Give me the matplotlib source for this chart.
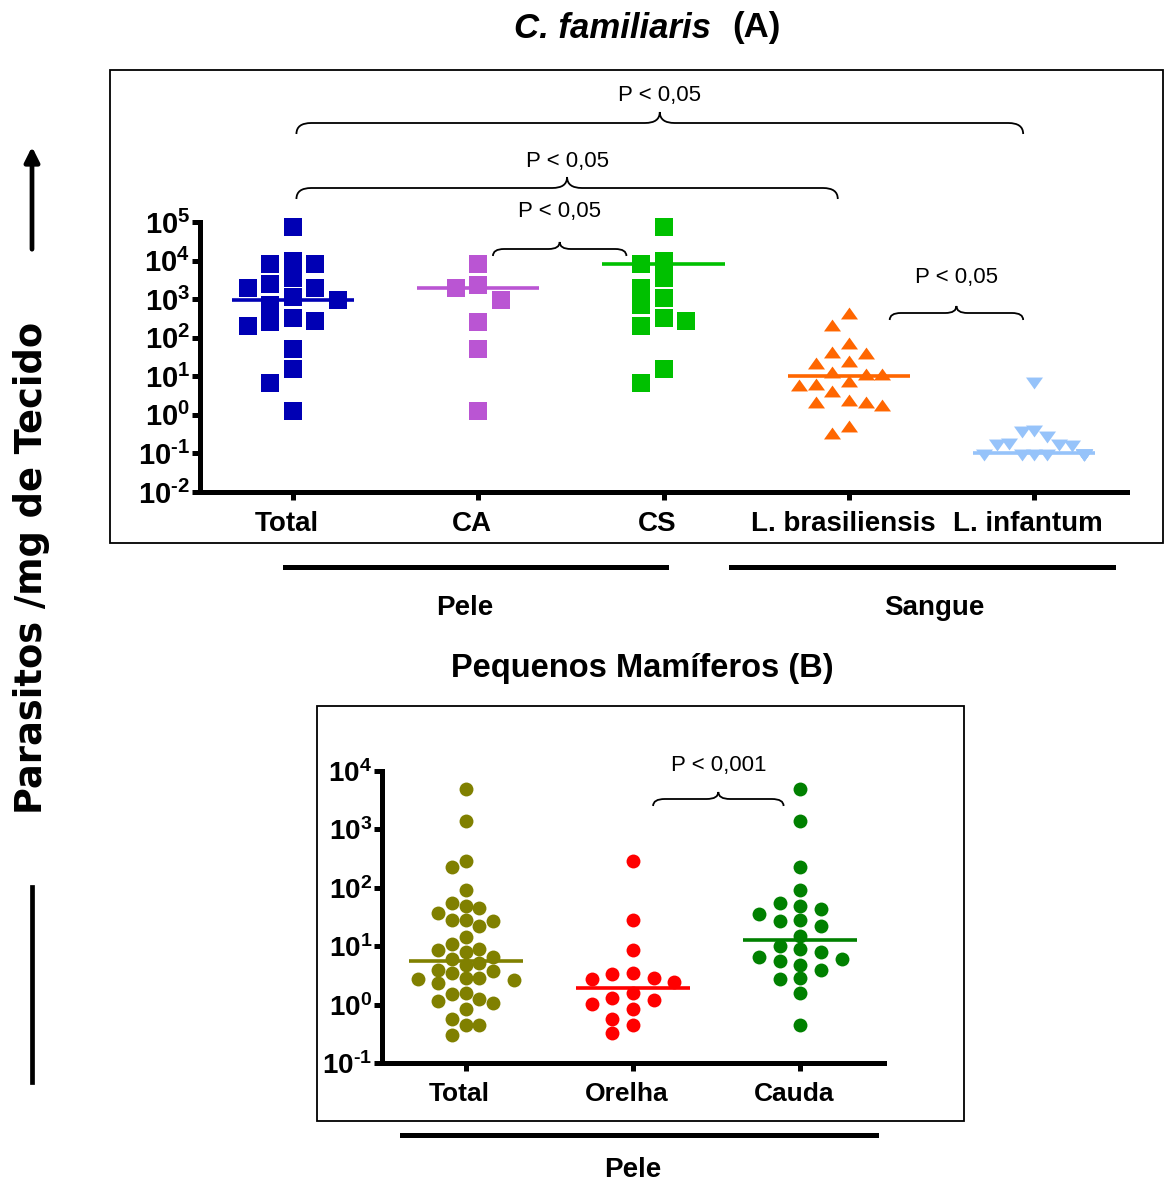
import numpy as np
import matplotlib
matplotlib.use('Agg')
import matplotlib.pyplot as plt
import matplotlib.transforms as mtransforms
from matplotlib.path import Path
from matplotlib.patches import PathPatch, Rectangle, FancyArrowPatch
from matplotlib.lines import Line2D
from matplotlib.ticker import FixedLocator, NullLocator, FuncFormatter

plt.rcParams['font.family'] = ['Liberation Sans', 'DejaVu Sans']
plt.rcParams['mathtext.fontset'] = 'custom'
plt.rcParams['mathtext.rm'] = 'Liberation Sans'
plt.rcParams['mathtext.bf'] = 'Liberation Sans:bold'

W, H = 1164, 1184

# ---- panel A : C. familiaris ----
cats_a = ['Total', 'CA', 'CS', 'L. brasiliensis', 'L. infantum']
total_a = [74000, 9500, 8300, 8300, 3600, 2000, 1150, 1900, 2400, 930, 690,
           330, 250, 200, 275, 51, 15, 6.6, 1.23]
ca_a = [8300, 2000, 2300, 930, 250, 51, 1.23]
cs_a = [74000, 8300, 9500, 3600, 2000, 1100, 690, 275, 200, 330, 15, 6.6]
lbras_a = [430, 220, 74, 42, 39, 25, 22, 13, 11.7, 11.2, 7.6, 5.9, 6.5, 4.1,
           2.5, 2.1, 1.8, 2.1, 0.52, 0.34]
linf_a = [6.9, 0.39, 0.35, 0.27, 0.18, 0.17, 0.16, 0.17,
          0.09, 0.09, 0.09, 0.09, 0.09, 0.09, 0.09, 0.09, 0.09]
medians_a = [940, 2000, 8300, 10, 0.1]
colors_a = ['#0000B4', '#BA55D3', '#00C000', '#FF6600', '#96C3FA']

# ---- panel B : Pequenos Mamiferos ----
cats_b = ['Total', 'Orelha', 'Cauda']
total_b = [4900, 1380, 290, 230, 91, 45, 49, 56, 37, 28, 27.5, 22, 28, 14.5,
           10.7, 8.9, 8.7, 8.1, 6.6, 6.0, 5.1, 4.8, 3.7, 3.5, 3.9, 2.8, 2.75,
           2.8, 2.3, 2.6, 1.6, 1.23, 1.5, 1.07, 1.17, 0.83, 0.44, 0.44, 0.56,
           0.30]
orelha_b = [290, 28, 8.7, 3.5, 2.8, 3.3, 2.4, 2.75, 1.6, 1.3, 1.02, 1.2, 0.83,
            0.56, 0.44, 0.32]
cauda_b = [4900, 1380, 230, 91, 43, 56, 48, 36, 28, 27.5, 22, 15, 10, 8.9, 8.1,
           6.6, 6.0, 5.6, 4.8, 3.9, 2.75, 2.8, 1.6, 0.44]
medians_b = [5.6, 1.95, 13]
colors_b = ['#808000', '#FF0000', '#008000']


def swarm(vals, lo, hi, ax_h, step, dy_min, max_off):
    # simple beeswarm in pixel units, half-step slots
    y = (np.log10(vals) - lo) / (hi - lo) * ax_h
    xs = np.zeros(len(vals))
    done = []
    for i in np.argsort(-y):
        x = 0
        for k in [0, -1, 1, -2, 2, -3, 3, -4, 4, -5, 5, -6, 6, -7, 7, -8, 8]:
            x = k * step / 2
            if all(abs(x - xs[j]) >= step or abs(y[i] - y[j]) >= dy_min for j in done):
                break
        xs[i] = x
        done.append(i)
    if np.abs(xs).max() > max_off:
        xs = xs * max_off / np.abs(xs).max()
    return xs


def pix_ax(px):
    l, t, r, b = px
    return [l / W, 1 - b / H, (r - l) / W, (b - t) / H]


def exp_label(v, p):
    e = str(int(round(np.log10(v)))).replace('-', '\u2010')
    return r'$\mathbf{10^{%s}}$' % e


fig = plt.figure(figsize=(W / 100, H / 100), dpi=100)
pix = mtransforms.Affine2D().scale(1 / W, -1 / H).translate(0, 1) + fig.transFigure
shift_left = mtransforms.ScaledTranslation(-6 / 100, 0, fig.dpi_scale_trans)


def style_axis(ax, ncat, lo, hi, fs, xfs):
    ax.set_yscale('log')
    ax.set_ylim(10.0 ** lo, 10.0 ** hi)
    ax.set_xlim(-0.5, ncat - 0.5)
    for s in ['top', 'right']:
        ax.spines[s].set_visible(False)
    for s in ['left', 'bottom']:
        ax.spines[s].set_linewidth(3.6)
    ax.yaxis.set_major_locator(FixedLocator([10.0 ** k for k in range(lo, hi + 1)]))
    ax.yaxis.set_minor_locator(NullLocator())
    ax.yaxis.set_major_formatter(FuncFormatter(exp_label))
    ax.tick_params(axis='y', length=6, width=3.6, pad=1, labelsize=fs)
    ax.tick_params(axis='x', length=6, width=3.6, pad=8, labelsize=xfs)
    for lab in ax.get_xticklabels():
        lab.set_fontweight('bold')
        lab.set_transform(lab.get_transform() + shift_left)


def brace(ax, x0, x1, y, h, w, label, fs=16, label_y=None):
    tr = mtransforms.blended_transform_factory(ax.transData, pix)
    xm = (x0 + x1) / 2
    verts = [(x0, y + h), (x0, y), (x0 + w, y), (xm - w, y), (xm, y), (xm, y - h),
             (xm, y), (xm + w, y), (x1 - w, y), (x1, y), (x1, y + h)]
    codes = [Path.MOVETO, Path.CURVE3, Path.CURVE3, Path.LINETO, Path.CURVE3, Path.CURVE3,
             Path.CURVE3, Path.CURVE3, Path.LINETO, Path.CURVE3, Path.CURVE3]
    ax.add_patch(PathPatch(Path(verts, codes), transform=tr, fill=False, lw=1.3,
                           ec='black', clip_on=False))
    ax.text(xm, label_y, label, transform=tr, ha='center', va='center', fontsize=fs)


# ---------------- panel A ----------------
axA = fig.add_axes(pix_ax((200, 222, 1127, 492)))
groups_a = [total_a, ca_a, cs_a, lbras_a, linf_a]
tri_up = [(-1, -0.7), (1, -0.7), (0, 0.7)]
tri_dn = [(-1, 0.7), (1, 0.7), (0, -0.7)]
markers_a = ['s', 's', 's', tri_up, tri_dn]
cat_px_a = 185.25
for i, vals in enumerate(groups_a):
    vals = np.array(vals, dtype=float)
    xs = swarm(vals, -2, 5, 270, 22.5, 16, 50)
    axA.scatter(i + xs / cat_px_a, vals, marker=markers_a[i], s=150,
                color=colors_a[i], linewidths=0, zorder=3, clip_on=False)
    axA.plot([i - 0.33, i + 0.33], [medians_a[i]] * 2, color=colors_a[i], lw=2.6,
             zorder=4, solid_capstyle='butt')
axA.set_xticks(range(len(cats_a)))
axA.set_xticklabels(cats_a)
style_axis(axA, len(cats_a), -2, 5, 21, 20)

brace(axA, 0.02, 3.94, 123, 11, 0.08, 'P < 0,05', label_y=95)
brace(axA, 0.02, 2.94, 188, 11, 0.08, 'P < 0,05', label_y=161)
brace(axA, 1.08, 1.80, 249, 7, 0.06, 'P < 0,05', label_y=212)
brace(axA, 3.22, 3.94, 313, 7, 0.06, 'P < 0,05', label_y=277)

# ---------------- panel B ----------------
axB = fig.add_axes(pix_ax((382, 771, 884, 1063)))
groups_b = [total_b, orelha_b, cauda_b]
cat_px_b = 167.5
for i, vals in enumerate(groups_b):
    vals = np.array(vals, dtype=float)
    xs = swarm(vals, -1, 4, 292, 20.7, 13, 48)
    axB.scatter(i + xs / cat_px_b, vals, marker='o', s=100, color=colors_b[i],
                linewidths=0, zorder=3, clip_on=False)
    axB.plot([i - 0.34, i + 0.34], [medians_b[i]] * 2, color=colors_b[i], lw=2.6,
             zorder=4, solid_capstyle='butt')
axB.set_xticks(range(len(cats_b)))
axB.set_xticklabels(cats_b)
style_axis(axB, len(cats_b), -1, 4, 20, 19)

brace(axB, 1.12, 1.90, 799, 7, 0.07, 'P < 0,001', label_y=766)

# ---------------- figure decorations ----------------
fig.add_artist(Rectangle((110, 70), 1053, 473, transform=pix, fill=False, lw=1.3, ec='black'))
fig.add_artist(Rectangle((317, 706), 647, 415, transform=pix, fill=False, lw=1.3, ec='black'))

fig.text(711, 28, 'C. familiaris', transform=pix, ha='right', va='center',
         fontsize=25, fontweight='bold', fontstyle='italic')
fig.text(732, 28, '(A)', transform=pix, ha='left', va='center', fontsize=25,
         fontweight='bold')
fig.text(642, 668, 'Pequenos Mamíferos (B)', transform=pix, ha='center', va='center',
         fontsize=23.5, fontweight='bold')

for x0, x1, y in [(285, 666, 567), (731, 1113, 567), (402, 876, 1135)]:
    fig.add_artist(Line2D([x0, x1], [y, y], transform=pix, lw=3.6, color='black'))
for lx, ly, lab in [(465, 608, 'Pele'), (934, 608, 'Sangue'), (633, 1170, 'Pele')]:
    fig.text(lx, ly, lab, transform=pix, ha='center', va='center',
             fontsize=20, fontweight='bold')

fig.text(32, 568, 'Parasitos /mg de Tecido', transform=pix, rotation=90,
         ha='center', va='center', fontsize=26.5, fontweight='bold',
         family=['DejaVu Sans'])
fig.add_artist(FancyArrowPatch((32, 252), (32, 144), transform=pix, arrowstyle='-|>',
                               mutation_scale=22, lw=3.4, color='black'))
fig.add_artist(Line2D([32, 32], [887, 1082], transform=pix, lw=3.4, color='black'))

fig.savefig('out.png', dpi=100)
